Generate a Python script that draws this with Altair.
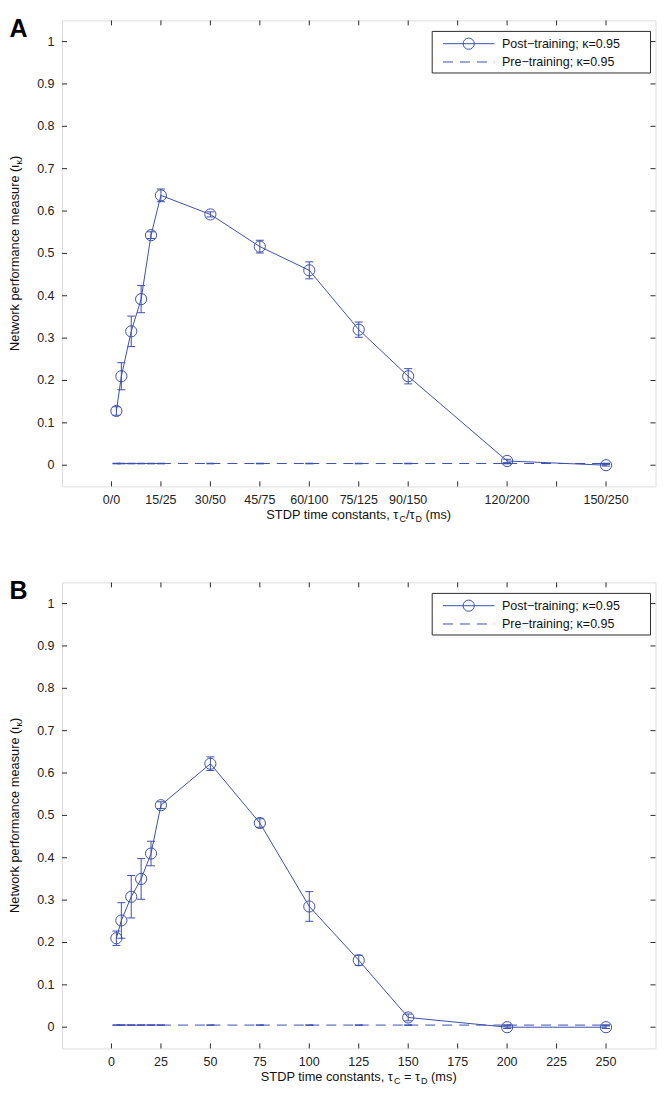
import altair as alt
import pandas as pd

# ---------------- data ----------------
x_vals = [2.5, 5, 10, 15, 20, 25, 50, 75, 100, 125, 150, 200, 250]

post_A = [0.128, 0.210, 0.316, 0.392, 0.543, 0.637, 0.592, 0.516, 0.460, 0.320, 0.210, 0.010, 0.000]
err_A = [0.010, 0.032, 0.036, 0.032, 0.008, 0.015, 0.006, 0.015, 0.020, 0.018, 0.018, 0.004, 0.002]
pre_A = [0.004, 0.004, 0.004, 0.004, 0.004, 0.004, 0.004, 0.004, 0.004, 0.004, 0.004, 0.004, 0.004]

post_B = [0.210, 0.252, 0.308, 0.350, 0.410, 0.524, 0.622, 0.482, 0.285, 0.158, 0.023, 0.000, 0.000]
err_B = [0.017, 0.042, 0.050, 0.048, 0.029, 0.008, 0.016, 0.010, 0.035, 0.012, 0.008, 0.003, 0.003]
pre_B = [0.005, 0.005, 0.005, 0.005, 0.005, 0.005, 0.005, 0.005, 0.005, 0.005, 0.005, 0.005, 0.005]

x_ticks = [0, 25, 50, 75, 100, 125, 150, 175, 200, 225, 250]
x_labels_A = ["0/0", "15/25", "30/50", "45/75", "60/100", "75/125", "90/150", "", "120/200", "", "150/250"]
x_labels_B = ["0", "25", "50", "75", "100", "125", "150", "175", "200", "225", "250"]
y_ticks = [0, 0.1, 0.2, 0.3, 0.4, 0.5, 0.6, 0.7, 0.8, 0.9, 1]
y_labels = ["0", "0.1", "0.2", "0.3", "0.4", "0.5", "0.6", "0.7", "0.8", "0.9", "1"]

legend_labels = ["Post\u2212training; \u03ba=0.95", "Pre\u2212training; \u03ba=0.95"]
# (text, is_subscript, leading_space)
y_title_parts = [("Network performance measure (\u03b9", False, False), ("\u03ba", True, False),
                 (")", False, False)]
x_title_A = [("STDP time constants, \u03c4", False, False), ("C", True, False), ("/\u03c4", False, False),
             ("D", True, False), ("(ms)", False, True)]
x_title_B = [("STDP time constants, \u03c4", False, False), ("C", True, False), ("= \u03c4", False, True),
             ("D", True, False), ("(ms)", False, True)]

# ---------------- style ----------------
FONT = "Liberation Sans"
BLUE = "#3c50ad"
FRAME = "#2b2b2b"
W, H = 593.5, 466
FS = 12.5
TFS = 12.8
SFS = 9

AW = {' ': 278, 'S': 667, 'T': 611, 'D': 722, 'P': 667, 't': 278, 'i': 222, 'm': 833,
      'e': 556, 'c': 500, 'o': 556, 'n': 556, 's': 500, 'a': 556, ',': 278, '\u03c4': 460, '(': 333,
      ')': 333, '/': 278, 'C': 722, '=': 584, 'N': 722, 'w': 722, 'r': 333, 'k': 500, 'p': 556,
      'f': 278, 'u': 556, '\u03b9': 222, '\u03ba': 500}


def tw(s, fs):
    return sum(AW.get(ch, 556) for ch in s) * fs / 1000.0


XS = alt.Scale(domain=[-25, 275], nice=False, zero=False)
YS = alt.Scale(domain=[-0.05, 1.05], nice=False, zero=False)


def xenc(field="x"):
    return alt.X(f"{field}:Q", scale=XS, axis=None)


def yenc(field="y"):
    return alt.Y(f"{field}:Q", scale=YS, axis=None)


def one():
    return pd.DataFrame({"k": [0]})


def panel(post, err, pre, xlabels, letter, xtitle):
    df = pd.DataFrame({"x": x_vals, "y": post,
                       "lo": [p - e for p, e in zip(post, err)],
                       "hi": [p + e for p, e in zip(post, err)],
                       "pre": pre})
    seg_rows = []
    for i in range(len(x_vals) - 1):
        seg_rows.append({"seg": i, "x": x_vals[i], "pre": pre[i]})
        seg_rows.append({"seg": i, "x": x_vals[i + 1], "pre": pre[i + 1]})
    seg = pd.DataFrame(seg_rows)
    X = xenc()
    layers = []

    # pre-training dashed line (pattern restarts each segment) and its tiny error caps
    layers.append(alt.Chart(seg).mark_line(color=BLUE, strokeWidth=1, strokeDash=[10, 7])
                  .encode(x=X, y=yenc("pre"), detail="seg:N"))
    layers.append(alt.Chart(df).mark_rule(color=BLUE, strokeWidth=1.6, xOffset=-4, x2Offset=4)
                  .encode(x=X, x2="x:Q", y=yenc("pre")))
    # post-training
    layers.append(alt.Chart(df).mark_line(color=BLUE, strokeWidth=1).encode(x=X, y=yenc("y")))
    layers.append(alt.Chart(df).mark_rule(color=BLUE, strokeWidth=1)
                  .encode(x=X, y=yenc("lo"), y2="hi:Q"))
    layers.append(alt.Chart(df).mark_rule(color=BLUE, strokeWidth=1, xOffset=-4, x2Offset=4)
                  .encode(x=X, x2="x:Q", y=yenc("lo")))
    layers.append(alt.Chart(df).mark_rule(color=BLUE, strokeWidth=1, xOffset=-4, x2Offset=4)
                  .encode(x=X, x2="x:Q", y=yenc("hi")))
    layers.append(alt.Chart(df).mark_point(shape="circle", filled=False, size=125, strokeWidth=1,
                                           color=BLUE, opacity=1)
                  .encode(x=X, y=yenc("y")))

    # inward ticks on all four sides + tick labels
    xt = pd.DataFrame({"x": x_ticks, "lab": xlabels})
    yt = pd.DataFrame({"y": y_ticks, "lab": y_labels})
    layers.append(alt.Chart(xt).mark_rule(color=FRAME, strokeWidth=1)
                  .encode(x=X, y=alt.value(H), y2=alt.value(H - 5)))
    layers.append(alt.Chart(xt).mark_rule(color=FRAME, strokeWidth=1)
                  .encode(x=X, y=alt.value(0), y2=alt.value(5)))
    layers.append(alt.Chart(yt).mark_rule(color=FRAME, strokeWidth=1)
                  .encode(y=yenc("y"), x=alt.value(0), x2=alt.value(5)))
    layers.append(alt.Chart(yt).mark_rule(color=FRAME, strokeWidth=1)
                  .encode(y=yenc("y"), x=alt.value(W), x2=alt.value(W - 5)))
    layers.append(alt.Chart(xt).mark_text(align="center", baseline="top", font=FONT, fontSize=FS,
                                          color="#222")
                  .encode(x=X, y=alt.value(H + 8), text="lab:N"))
    layers.append(alt.Chart(yt).mark_text(align="right", baseline="middle", font=FONT, fontSize=FS,
                                          color="#222")
                  .encode(y=yenc("y"), x=alt.value(-7.5), text="lab:N"))

    # legend
    lx0, lx1, ly0, ly1 = 370.2, 588.5, 11, 52.6
    r1, r2 = 23.3, 41.6
    layers.append(alt.Chart(one()).mark_rect(fill="white", stroke=FRAME, strokeWidth=1)
                  .encode(x=alt.value(lx0), x2=alt.value(lx1), y=alt.value(ly0), y2=alt.value(ly1)))
    layers.append(alt.Chart(one()).mark_rule(color=BLUE, strokeWidth=1)
                  .encode(x=alt.value(381), x2=alt.value(432.5), y=alt.value(r1)))
    layers.append(alt.Chart(one()).mark_point(shape="circle", filled=False, size=125, strokeWidth=1,
                                              color=BLUE, opacity=1)
                  .encode(x=alt.value(406.7), y=alt.value(r1)))
    layers.append(alt.Chart(one()).mark_rule(color=BLUE, strokeWidth=1, strokeDash=[10, 7])
                  .encode(x=alt.value(381), x2=alt.value(432.5), y=alt.value(r2)))
    for lab, ry in zip(legend_labels, [r1, r2]):
        layers.append(alt.Chart(one()).mark_text(text=lab, align="left", baseline="middle",
                                                 font=FONT, fontSize=FS, color="#111")
                      .encode(x=alt.value(440), y=alt.value(ry)))

    # x title with subscripts
    def pw(t, s, lead):
        fs = SFS if s else TFS
        return tw(t, fs) + (tw(" ", TFS) if lead else 0)

    total = sum(pw(*p) for p in xtitle)
    cx = W / 2 - total / 2
    base = H + 33
    for t, s, lead in xtitle:
        fs = SFS if s else TFS
        if lead:
            cx += tw(" ", TFS)
        layers.append(alt.Chart(one()).mark_text(text=t, align="left", baseline="alphabetic",
                                                 font=FONT, fontSize=fs, color="#111")
                      .encode(x=alt.value(cx), y=alt.value(base + (3 if s else 0))))
        cx += tw(t, fs)

    # y title with subscript (rotated)
    total = sum(pw(*p) for p in y_title_parts)
    cy = H / 2 + total / 2
    xb = -43
    for t, s, lead in y_title_parts:
        fs = SFS if s else TFS
        layers.append(alt.Chart(one()).mark_text(text=t, align="left", baseline="alphabetic",
                                                 angle=270, font=FONT, fontSize=fs, color="#111")
                      .encode(x=alt.value(xb + (3 if s else 0)), y=alt.value(cy)))
        cy -= tw(t, fs)

    # panel letter
    layers.append(alt.Chart(one()).mark_text(text=letter, align="left", baseline="alphabetic",
                                             font=FONT, fontSize=25, fontWeight="bold", color="#000")
                  .encode(x=alt.value(-52.5), y=alt.value(17)))

    return alt.layer(*layers).properties(width=W, height=H)


chart = alt.vconcat(
    panel(post_A, err_A, pre_A, x_labels_A, "A", x_title_A),
    panel(post_B, err_B, pre_B, x_labels_B, "B", x_title_B),
    spacing=53,
).properties(
    padding={"left": 0, "top": 8.4, "right": 0, "bottom": 0}
).configure_view(
    stroke=FRAME, strokeWidth=1
).configure(background="white")

chart.save("out.html", embed_options={"renderer": "svg", "actions": False})
